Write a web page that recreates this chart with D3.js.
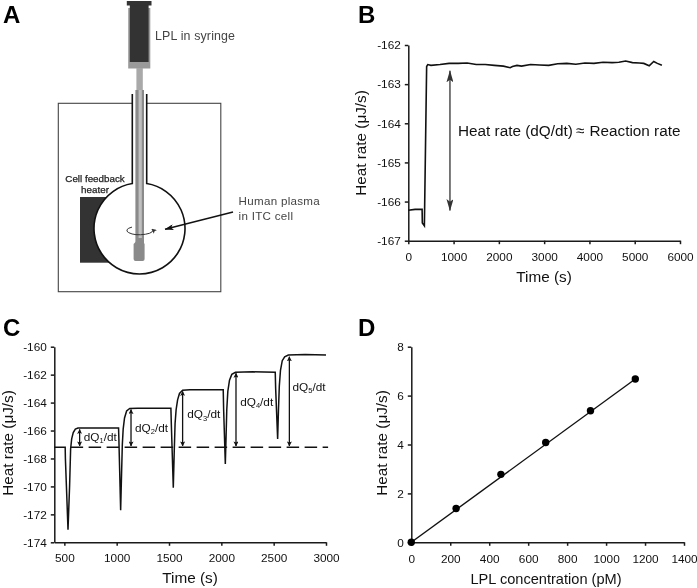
<!DOCTYPE html>
<html>
<head>
<meta charset="utf-8">
<script src="https://cdn.jsdelivr.net/npm/d3@7/dist/d3.min.js"></script>
<style>
html,body{margin:0;padding:0;background:#fff;overflow:hidden}
svg{display:block;filter:blur(0.35px)}
text{font-family:"Liberation Sans",Arial,sans-serif;fill:#111}
</style>
</head>
<body>
<svg id="fig" width="697" height="588" viewBox="0 0 697 588"></svg>
<script>
// ---------- Panel B data ----------
const bTicksX = [0,1000,2000,3000,4000,5000,6000];
const bTicksY = [-167,-166,-165,-164,-163,-162];
const bTrace = [[0,-166.22],[150,-166.2],[305,-166.2],[310,-166.55],[355,-166.62],[405,-162.55],[430,-162.5],[500,-162.52],[700,-162.5],[900,-162.47],[1100,-162.47],[1300,-162.46],[1500,-162.5],[1700,-162.5],[1900,-162.52],[2100,-162.54],[2250,-162.58],[2300,-162.55],[2400,-162.52],[2500,-162.54],[2700,-162.5],[2900,-162.51],[3100,-162.52],[3300,-162.48],[3500,-162.47],[3700,-162.49],[3900,-162.46],[4100,-162.47],[4300,-162.44],[4500,-162.45],[4650,-162.44],[4800,-162.41],[4950,-162.45],[5100,-162.46],[5200,-162.47],[5320,-162.53],[5420,-162.42],[5500,-162.47],[5600,-162.52]];
const bArrow = [[920,-162.66],[920,-166.23]];

// ---------- Panel C data ----------
const cTicksX = [500,1000,1500,2000,2500,3000];
const cTicksY = [-174,-172,-170,-168,-166,-164,-162,-160];
const cTrace = [[404,-167.2],[508,-167.2],[510,-168],[535,-173.1],[550,-170],[560,-167.3],[570,-166.6],[585,-166.15],[605,-165.9],[630,-165.82],[800,-165.82],[1018,-165.82],[1021,-166.6],[1038,-171.7],[1047,-169],[1054,-167],[1062,-165.9],[1075,-165.1],[1095,-164.6],[1125,-164.42],[1200,-164.4],[1518,-164.4],[1522,-165.5],[1541,-170.1],[1550,-167.5],[1558,-165.5],[1568,-164.5],[1582,-163.8],[1600,-163.35],[1630,-163.12],[1700,-163.08],[2018,-163.08],[2022,-164.5],[2038,-168.4],[2045,-166.5],[2052,-164.5],[2062,-163.2],[2078,-162.4],[2100,-161.98],[2135,-161.83],[2300,-161.8],[2515,-161.82],[2519,-163],[2538,-166.6],[2546,-164.5],[2554,-162.8],[2565,-161.7],[2582,-161.0],[2605,-160.72],[2640,-160.6],[2800,-160.55],[3000,-160.6]];
const cBaseline = [[560,-167.2],[3020,-167.2]];
const cArrowX = [646,1137,1630,2140,2650];
const cArrowTop = [-165.92,-164.5,-163.2,-161.9,-160.72];
const cArrowBottom = -167.1;
const cLabelX = [685,1175,1675,2180,2680];
const cLabelY = [-166.74,-166.08,-165.13,-164.23,-163.15];
const cLabelSub = ["1","2","3","4","5"];

// ---------- Panel D data ----------
const dTicksX = [0,200,400,600,800,1000,1200,1400];
const dTicksY = [0,2,4,6,8];
const dConc = [0,230,460,690,920,1150];
const dRate = [0,1.38,2.78,4.08,5.38,6.68];

const svg = d3.select("#fig");
const ink = "#1a1a1a";

const defs = svg.append("defs");
function marker(id,w,h,col){
  defs.append("marker").attr("id",id).attr("markerUnits","userSpaceOnUse")
    .attr("viewBox",`0 0 ${w} ${h}`).attr("refX",w-0.5).attr("refY",h/2)
    .attr("markerWidth",w).attr("markerHeight",h).attr("orient","auto-start-reverse")
    .append("path").attr("d",`M0,0L${w},${h/2}L0,${h}L${w*0.22},${h/2}Z`).attr("fill",col);
}
marker("big",12,7,"#333");
marker("small",5,5,"#111");
marker("cell",9,6,"#111");
marker("spin",5,5,"#333");

function axes(g,x,y,xt,yt,xPad){
  const ax = g.append("g").attr("transform",`translate(0,${y.range()[0]})`)
    .call(d3.axisBottom(x).tickValues(xt).tickFormat(String).tickSize(3.5).tickPadding(xPad).tickSizeOuter(0));
  const ay = g.append("g").attr("transform",`translate(${x.range()[0]},0)`)
    .call(d3.axisLeft(y).tickValues(yt).tickFormat(String).tickSize(3.5).tickPadding(4).tickSizeOuter(0));
  [ax,ay].forEach(a=>{
    a.selectAll("path,line").attr("stroke",ink).attr("stroke-width",1.5);
    a.selectAll("text").attr("font-size",11.8).attr("font-family",'"Liberation Sans",Arial,sans-serif').attr("fill","#111");
  });
}
function label(t,x,y,size,weight){
  return svg.append("text").text(t).attr("x",x).attr("y",y).attr("font-size",size).attr("font-weight",weight||"normal");
}
function yTitle(t,x,y,size){
  svg.append("text").text(t).attr("transform",`translate(${x},${y}) rotate(-90)`)
    .attr("text-anchor","middle").attr("font-size",size);
}
function xTitle(t,x,y,size){
  label(t,x,y,size).attr("text-anchor","middle");
}
const lineGen = (x,y)=>d3.line().x(d=>x(d[0])).y(d=>y(d[1]));

// ---------- Panel letters ----------
[["A",3,23],["B",358,22.5],["C",3,335.5],["D",358,336]].forEach(d=>label(d[0],d[1],d[2],24,"bold").style("fill","#000"));

// ---------- Panel A schematic ----------
(function(){
  const g = svg.append("g");
  const cx=139.5, cy=229.5, r=45.5, nl=132.3, nr=146.7;
  const dy=Math.sqrt(r*r-(cx-nl)*(cx-nl));
  const top=cy-dy;
  const rect=(a,b,c,d,f)=>g.append("rect").attr("x",a).attr("y",b).attr("width",c-a).attr("height",d-b).attr("fill",f);
  // enclosure
  g.append("rect").attr("x",58.3).attr("y",103.3).attr("width",162.5).attr("height",188.4)
    .attr("fill","#fff").attr("stroke","#444").attr("stroke-width",1.1);
  rect(nl,100,nr,110,"#fff");
  // heater
  rect(80,197,125,262.7,"#333");
  // cell with neck
  g.append("path").attr("d",`M${nl},94 L${nl},${top-1} A${r},${r} 0 1 0 ${nr},${top-1} L${nr},94`)
    .attr("fill","#fff").attr("stroke","#111").attr("stroke-width",1.6);
  // syringe
  rect(128.2,8,150.3,68.5,"#9a9a9a");
  rect(129.8,5,148.6,62,"#333");
  rect(126.8,1,151.5,5.5,"#333");
  rect(136.4,68,142.8,92,"#a9a9a9");
  rect(135.4,90,144,243,"#8a8a8a");
  rect(138.6,90,141.8,243,"#c0c0c0");
  g.append("path").attr("d","M136.5,238 L136.5,241 L133.6,244 L133.6,259 Q133.6,261 135.6,261 L142.6,261 Q144.6,261 144.6,259 L144.6,244 L142.8,241 L142.8,238 Z").attr("fill","#8a8a8a");
  // stir arrow
  g.append("path").attr("d",`M132,225.6 A13,4.2 0 1 0 152,227.5`).attr("fill","none").attr("stroke","#333").attr("stroke-width",1)
    .attr("marker-end","url(#spin)").attr("transform","translate(0,1.5)");
  // pointer
  g.append("line").attr("x1",233).attr("y1",212).attr("x2",165).attr("y2",229.3).attr("stroke","#111").attr("stroke-width",1.4).attr("marker-end","url(#cell)");
  label("LPL in syringe",155,39.5,12.4).style("fill","#444").attr("letter-spacing",0.15);
  label("Human plasma",238.5,204.5,11.6).style("fill","#444").attr("letter-spacing",0.3);
  label("in ITC cell",238.5,220,11.6).style("fill","#444").attr("letter-spacing",0.3);
  label("Cell feedback",95,181.5,9.8).attr("text-anchor","middle").style("fill","#222").attr("stroke","#222").attr("stroke-width",0.25);
  label("heater",95,193,9.8).attr("text-anchor","middle").style("fill","#222").attr("stroke","#222").attr("stroke-width",0.25);
})();

// ---------- Panel B ----------
(function(){
  const x=d3.scaleLinear().domain([0,6000]).range([408.3,680]);
  const y=d3.scaleLinear().domain([-167,-162]).range([240.7,45]);
  const g=svg.append("g");
  axes(g,x,y,bTicksX,bTicksY,8);
  g.append("path").datum(bTrace).attr("d",lineGen(x,y)).attr("fill","none").attr("stroke","#111").attr("stroke-width",1.6);
  g.append("path").datum(bArrow).attr("d",lineGen(x,y)).attr("fill","none").attr("stroke","#333").attr("stroke-width",1.3)
    .attr("marker-start","url(#big)").attr("marker-end","url(#big)");
  const t=label("",458,136,15.3);
  t.append("tspan").text("Heat rate (dQ/dt)");
  t.append("tspan").text("≈").attr("x",576);
  t.append("tspan").text("Reaction rate").attr("x",589.5);
  yTitle("Heat rate (μJ/s)",366,143,15.3);
  xTitle("Time (s)",544,282,15.3);
})();

// ---------- Panel C ----------
(function(){
  const x=d3.scaleLinear().domain([404,3000]).range([54.3,326]);
  const y=d3.scaleLinear().domain([-174,-160]).range([542.3,346.7]);
  const g=svg.append("g");
  axes(g,x,y,cTicksX,cTicksY,8);
  g.append("path").datum(cBaseline).attr("d",lineGen(x,y)).attr("fill","none").attr("stroke","#111").attr("stroke-width",1.5).attr("stroke-dasharray","12.5,5.5");
  g.append("path").datum(cTrace).attr("d",lineGen(x,y)).attr("fill","none").attr("stroke","#111").attr("stroke-width",1.5);
  cArrowX.forEach((v,i)=>{
    g.append("line").attr("x1",x(v)).attr("x2",x(v)).attr("y1",y(cArrowTop[i])).attr("y2",y(cArrowBottom))
      .attr("stroke","#111").attr("stroke-width",1.3).attr("marker-start","url(#small)").attr("marker-end","url(#small)");
    const t=label("",x(cLabelX[i]),y(cLabelY[i]),11.8);
    t.append("tspan").text("dQ");
    t.append("tspan").text(cLabelSub[i]).attr("font-size",7.5).attr("dy",2.5);
    t.append("tspan").text("/dt").attr("dy",-2.5);
  });
  yTitle("Heat rate (μJ/s)",13,443,15.3);
  xTitle("Time (s)",190,583,15.3);
})();

// ---------- Panel D ----------
(function(){
  const x=d3.scaleLinear().domain([0,1400]).range([411.3,684]);
  const y=d3.scaleLinear().domain([0,8]).range([542.3,346.7]);
  const g=svg.append("g");
  axes(g,x,y,dTicksX,dTicksY,8.5);
  const pts=dConc.map((c,i)=>[c,dRate[i]]);
  g.append("path").datum([pts[0],pts[pts.length-1]]).attr("d",lineGen(x,y)).attr("fill","none").attr("stroke","#111").attr("stroke-width",1.4);
  g.selectAll("circle").data(pts).join("circle").attr("cx",d=>x(d[0])).attr("cy",d=>y(d[1])).attr("r",3.7).attr("fill","#000");
  yTitle("Heat rate (μJ/s)",387,443,15.3);
  xTitle("LPL concentration (pM)",546,584,14.6);
})();
</script>
</body>
</html>
